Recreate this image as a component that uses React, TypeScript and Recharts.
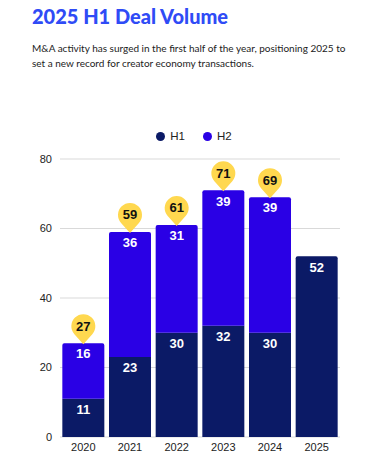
import { BarChart, Bar, XAxis, YAxis, CartesianGrid, Legend, LabelList, Rectangle } from 'recharts'

const YEARS = ['2020', '2021', '2022', '2023', '2024', '2025']
const H1 = [11, 23, 30, 32, 30, 52]
const H2: (number | null)[] = [16, 36, 31, 39, 39, null]
const Y_TICKS = [0, 20, 40, 60, 80]

const NAVY = '#0b1a66'
const VIOLET = '#2a00e5'
const YELLOW = '#ffd84f'

const data = YEARS.map((year, i) => ({
  year,
  h1: H1[i],
  h2: H2[i],
  total: H2[i] == null ? null : H1[i] + (H2[i] as number),
}))

function Pin(props: any) {
  const { x, y, width, value } = props
  if (value == null) return null
  const cx = x + width / 2
  const r = 12
  const cy = y - 17
  const d = 18
  const a = Math.acos(r / d)
  const px = r * Math.sin(a)
  const py = r * Math.cos(a)
  const path = `M ${cx} ${cy + d} L ${cx + px} ${cy + py} A ${r} ${r} 0 1 0 ${cx - px} ${cy + py} Z`
  return (
    <g>
      <path d={path} fill={YELLOW} />
      <text x={cx} y={cy + 1} textAnchor="middle" dominantBaseline="middle"
        fontSize={13} fontWeight={700} fill="#111" fontFamily="Liberation Sans, Arial, sans-serif">
        {value}
      </text>
    </g>
  )
}

function H1Shape(props: any) {
  const top = props.payload?.h2 == null
  return <Rectangle {...props} radius={top ? [2, 2, 0, 0] : 0} />
}

function LegendContent() {
  const items = [
    { label: 'H1', color: NAVY },
    { label: 'H2', color: VIOLET },
  ]
  return (
    <div style={{ height: 30, display: 'flex', justifyContent: 'center', gap: 18, paddingLeft: 18,
      fontFamily: 'Liberation Sans, Arial, sans-serif', fontSize: 11.5, color: '#222', lineHeight: '14px' }}>
      {items.map((it) => (
        <div key={it.label} style={{ display: 'flex', alignItems: 'center', gap: 5, height: 14 }}>
          <span style={{ width: 9, height: 9, borderRadius: '50%', background: it.color, display: 'inline-block' }} />
          <span>{it.label}</span>
        </div>
      ))}
    </div>
  )
}

export default function App() {
  return (
    <div style={{ position: 'absolute', left: 0, top: 0, width: 384, height: 467, background: '#fff' }}>
      <div style={{ position: 'absolute', left: 32, top: 4, fontFamily: 'Lato, sans-serif', fontWeight: 900,
        fontSize: 20, color: '#2f4bf6' }}>
        2025 H1 Deal Volume
      </div>
      <div style={{ position: 'absolute', left: 32, top: 41, width: 345, fontFamily: 'Lato, sans-serif',
        fontSize: 10, lineHeight: '15px', color: '#222' }}>
        M&amp;A activity has surged in the first half of the year, positioning 2025 to
        <br />
        set a new record for creator economy transactions.
      </div>
      <BarChart width={384} height={467} data={data} barCategoryGap="5%"
        margin={{ top: 129, right: 44, bottom: 0, left: 30 }}>
        <CartesianGrid vertical={false} stroke="#d9d9d9" />
        <Legend verticalAlign="top" content={<LegendContent />} />
        <XAxis dataKey="year" axisLine={false} tickLine={false} tickSize={0} tickMargin={6} height={30}
          tick={{ fontSize: 11, fill: '#222', fontFamily: 'Liberation Sans, Arial, sans-serif' }} />
        <YAxis domain={[0, 80]} ticks={Y_TICKS} axisLine={false} tickLine={false} width={30}
          tick={{ fontSize: 11, fill: '#222', fontFamily: 'Liberation Sans, Arial, sans-serif' }} />
        <Bar dataKey="h1" stackId="a" fill={NAVY} isAnimationActive={false} shape={<H1Shape />}>
          <LabelList dataKey="h1" position="insideTop" offset={6} fill="#fff" fontSize={13} fontWeight={700}
            fontFamily="Liberation Sans, Arial, sans-serif" />
        </Bar>
        <Bar dataKey="h2" stackId="a" fill={VIOLET} radius={[2, 2, 0, 0]} isAnimationActive={false}>
          <LabelList dataKey="h2" position="insideTop" offset={6} fill="#fff" fontSize={13} fontWeight={700}
            fontFamily="Liberation Sans, Arial, sans-serif" />
          <LabelList dataKey="total" content={<Pin />} />
        </Bar>
      </BarChart>
    </div>
  )
}
